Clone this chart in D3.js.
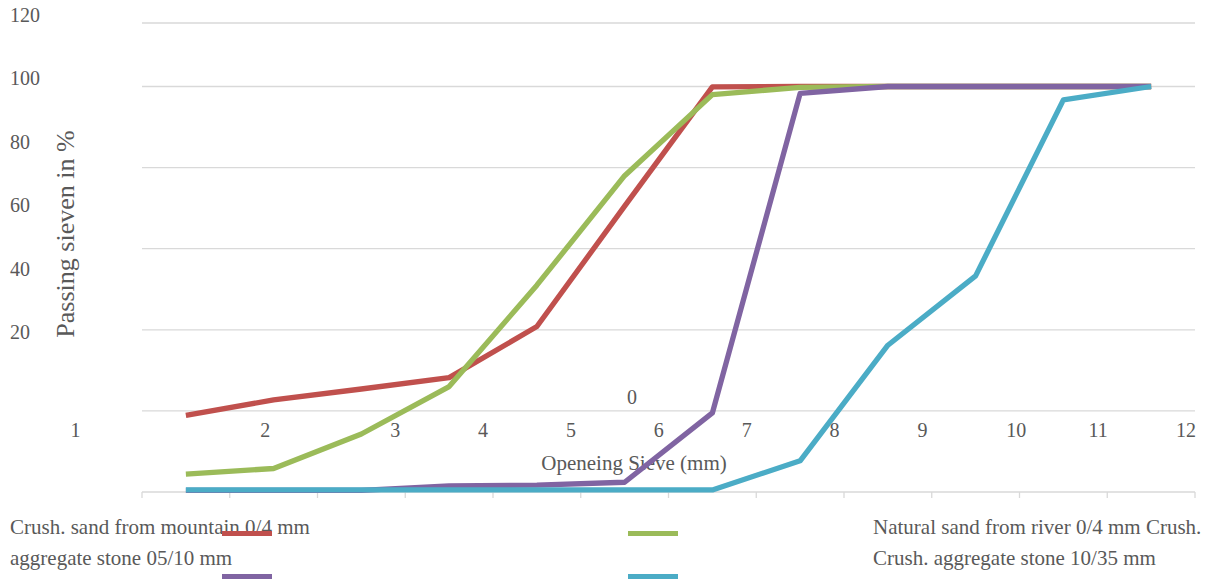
<!DOCTYPE html>
<html>
<head>
<meta charset="utf-8">
<script src="https://cdn.jsdelivr.net/npm/d3@7"></script>
<style>
  body { margin: 0; background: #fff; }
  text { font-family: "Liberation Serif", "Times New Roman", serif; fill: #595959; }
</style>
</head>
<body>
<svg id="chart"></svg>
<script>
// categories (sieve index) and series values, % passing
const sieves = [1, 2, 3, 4, 5, 6, 7, 8, 9, 10, 11, 12];
const mountainSand = [18.9, 22.7, 25.4, 28.2, 40.8, 70.5, 99.9, 100, 100, 100, 100, 100];
const riverSand    = [4.4, 5.8, 14.3, 26, 51, 78, 98, 99.8, 100, 100, 100, 100];
const stone0510    = [0.4, 0.4, 0.4, 1.5, 1.7, 2.4, 19.5, 98.3, 100, 100, 100, 100];
const stone1035    = [0.5, 0.5, 0.5, 0.5, 0.5, 0.5, 0.5, 7.7, 36.2, 53.3, 96.7, 100];

const yTickValues = [0, 20, 40, 60, 80, 100];
const yTickLabels = [120, 100, 80, 60, 40, 20];
const xTickLabels = ["1", "2", "3", "4", "5", "6", "7", "8", "9", "10", "11", "12"];

const seriesNames = ["Crush. sand from mountain 0/4 mm", "Natural sand from river 0/4 mm",
                     "Crush. aggregate stone 05/10 mm", "Crush. aggregate stone 10/35 mm"];
const seriesColors = ["#C0504D", "#9BBB59", "#8064A2", "#4BACC6"];
// legend text as it is laid out in the picture
const legendLeft = ["Crush. sand from mountain 0/4 mm", "aggregate stone 05/10 mm"];
const legendRight = ["Natural sand from river 0/4 mm Crush.", "Crush. aggregate stone 10/35 mm"];

const width = 1213, height = 581;
const svg = d3.select("#chart").attr("width", width).attr("height", height);

const x = d3.scaleBand().domain(sieves).range([142, 1195]);
const y = d3.scaleLinear().domain([0, 100]).range([492, 86.5]);

// gridlines
svg.append("g")
  .selectAll("line")
  .data(yTickValues)
  .join("line")
  .attr("x1", 142).attr("x2", 1195)
  .attr("y1", d => y(d)).attr("y2", d => y(d))
  .attr("stroke", "#d9d9d9").attr("stroke-width", 1.3);

// top frame line
svg.append("line")
  .attr("x1", 142).attr("x2", 1195).attr("y1", 23).attr("y2", 23)
  .attr("stroke", "#d9d9d9").attr("stroke-width", 1.3);

// x axis ticks below the baseline
const gx = svg.append("g")
  .attr("transform", `translate(0, ${y(0)})`)
  .call(d3.axisBottom(x).tickSize(0).tickFormat(""));
gx.select(".domain").remove();
gx.selectAll(".boundary")
  .data(sieves.concat([null]))
  .join("line")
  .attr("class", "boundary")
  .attr("x1", (d, i) => 142 + i * x.step()).attr("x2", (d, i) => 142 + i * x.step())
  .attr("y1", 0).attr("y2", 6)
  .attr("stroke", "#d9d9d9").attr("stroke-width", 1.3);

// y tick labels (offset from the grid as in the source)
const yLab = d3.scaleLinear().domain([20, 120]).range([332, 15]);
svg.append("g")
  .selectAll("text")
  .data(yTickLabels)
  .join("text")
  .attr("x", 10)
  .attr("y", d => yLab(d))
  .attr("dy", "0.35em")
  .attr("font-size", 20)
  .text(d => d);
svg.append("text")
  .attr("x", 632).attr("y", yLab(0) + 2).attr("dy", "0.35em")
  .attr("text-anchor", "middle").attr("font-size", 20)
  .text("0");

// x tick labels
const xLab = d3.scaleLinear().domain([4, 12]).range([483, 1186]);
const xShift = { "1": -144, "2": -42, "10": 6 };
svg.append("g")
  .selectAll("text")
  .data(xTickLabels)
  .join("text")
  .attr("x", d => xLab(+d) + (xShift[d] || 0))
  .attr("y", 430)
  .attr("dy", "0.35em")
  .attr("text-anchor", "middle")
  .attr("font-size", 20)
  .text(d => d);

// axis titles
svg.append("text")
  .attr("x", 634).attr("y", 463).attr("dy", "0.35em")
  .attr("text-anchor", "middle").attr("font-size", 21)
  .text("Openeing Sieve (mm)");
svg.append("text")
  .attr("transform", "translate(65, 234) rotate(-90)")
  .attr("dy", "0.35em")
  .attr("text-anchor", "middle").attr("font-size", 26)
  .text("Passing sieven in %");

// lines
const allSeries = [mountainSand, riverSand, stone0510, stone1035];
const line = d3.line()
  .x((d, i) => x(sieves[i]) + x.bandwidth() / 2)
  .y(d => y(d));

svg.append("g")
  .selectAll("path")
  .data(allSeries)
  .join("path")
  .attr("d", d => line(d))
  .attr("fill", "none")
  .attr("stroke", (d, i) => seriesColors[i])
  .attr("stroke-width", 5.3)
  .attr("stroke-linejoin", "round")
  .append("title").text((d, i) => seriesNames[i]);

// legend
const legend = svg.append("g");
legend.selectAll(".left")
  .data(legendLeft)
  .join("text")
  .attr("class", "left")
  .attr("x", 10).attr("y", (d, i) => 527 + i * 31)
  .attr("dy", "0.35em").attr("font-size", 21)
  .text(d => d);
legend.selectAll(".right")
  .data(legendRight)
  .join("text")
  .attr("class", "right")
  .attr("x", 873).attr("y", (d, i) => 527 + i * 31)
  .attr("dy", "0.35em").attr("font-size", 21)
  .text(d => d);
legend.selectAll("rect")
  .data(seriesColors)
  .join("rect")
  .attr("x", (d, i) => i % 2 === 0 ? 222 : 628)
  .attr("y", (d, i) => (i < 2 ? 531 : 574))
  .attr("width", 50).attr("height", 5)
  .attr("fill", d => d);
</script>
</body>
</html>
